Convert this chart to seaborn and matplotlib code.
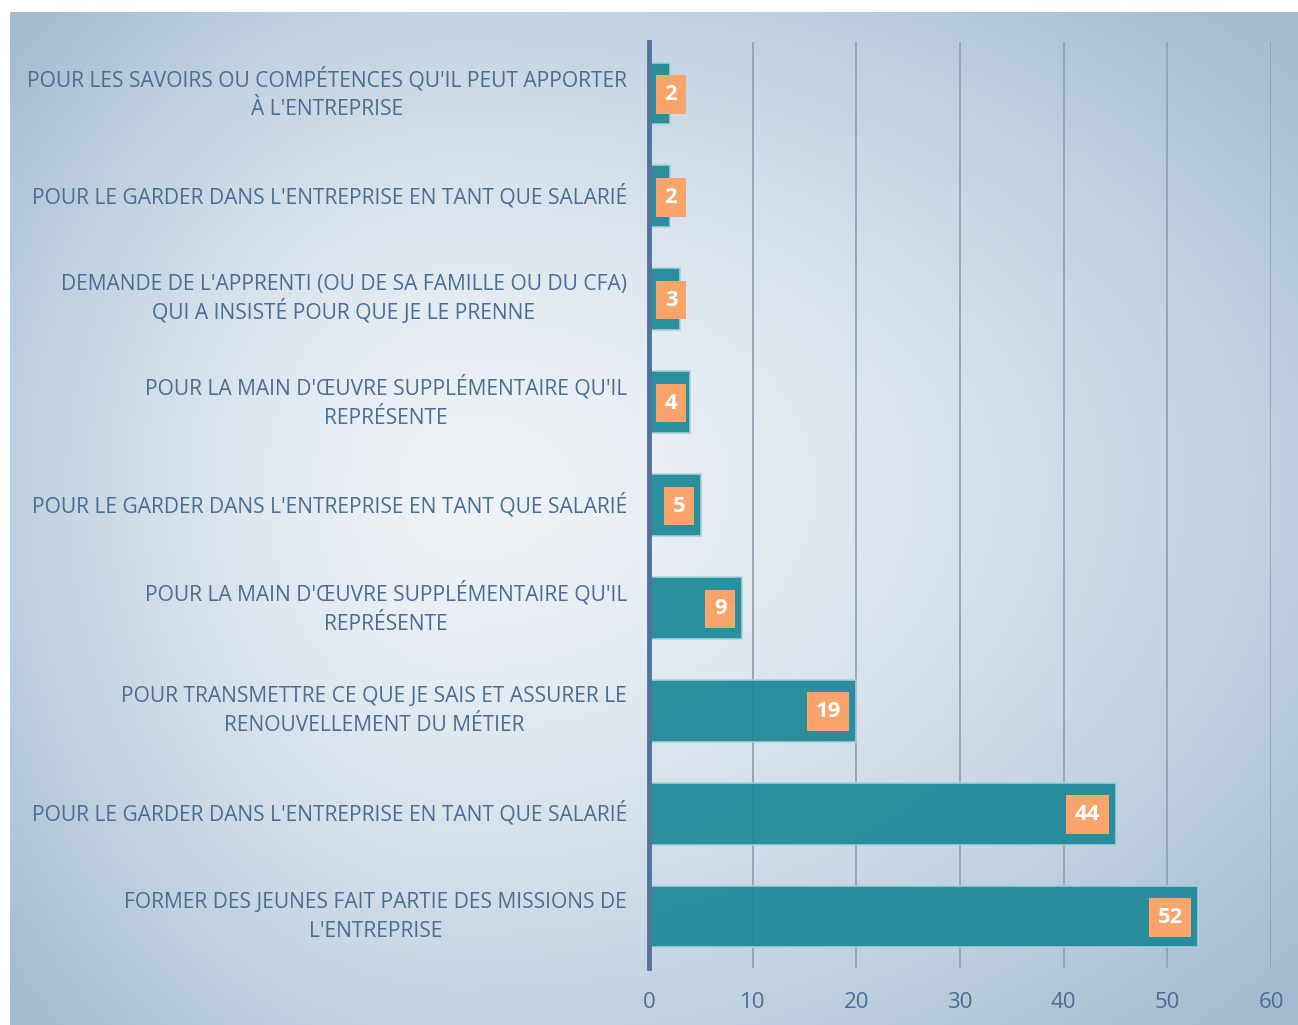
import numpy as np
import pandas as pd
import seaborn as sns
from matplotlib import pyplot as plt

# raisons, de haut en bas
raisons = [
    "POUR LES SAVOIRS OU COMPÉTENCES QU'IL PEUT APPORTER\nÀ L'ENTREPRISE",
    "POUR LE GARDER DANS L'ENTREPRISE EN TANT QUE SALARIÉ",
    "DEMANDE DE L'APPRENTI (OU DE SA FAMILLE OU DU CFA)\nQUI A INSISTÉ POUR QUE JE LE PRENNE",
    "POUR LA MAIN D'ŒUVRE SUPPLÉMENTAIRE QU'IL\nREPRÉSENTE",
    "POUR LE GARDER DANS L'ENTREPRISE EN TANT QUE SALARIÉ",
    "POUR LA MAIN D'ŒUVRE SUPPLÉMENTAIRE QU'IL\nREPRÉSENTE",
    "POUR TRANSMETTRE CE QUE JE SAIS ET ASSURER LE\nRENOUVELLEMENT DU MÉTIER",
    "POUR LE GARDER DANS L'ENTREPRISE EN TANT QUE SALARIÉ",
    "FORMER DES JEUNES FAIT PARTIE DES MISSIONS DE\nL'ENTREPRISE",
]
longueurs = [2, 2, 3, 4, 5, 9, 20, 45, 53]   # longueur des barres
etiquettes = [2, 2, 3, 4, 5, 9, 19, 44, 52]  # valeurs affichées
graduations = [0, 10, 20, 30, 40, 50, 60]

txt_col = "#4a6d93"
sns.set_style("white")
plt.rcParams["font.family"] = ["Open Sans", "DejaVu Sans"]

fig = plt.figure(figsize=(12.98, 10.25), dpi=100)

# fond en dégradé radial
bg = fig.add_axes([10 / 1298, 0, 1 - 10 / 1298, 1 - 12 / 1025])
h, w = 1013, 1288
yy, xx = np.mgrid[0:h, 0:w]
cx, cy = 450, 470
rx = np.where(xx < cx, 600.0, 1100.0)
ry = np.where(yy < cy, 670.0, 770.0)
d = np.sqrt(((xx - cx) / rx) ** 2 + ((yy - cy) / ry) ** 2)
d = np.clip(d, 0, 1)
c0 = np.array([0.935, 0.952, 0.968])
c1 = np.array([0.64, 0.735, 0.82])
img = c0 + (c1 - c0) * d[..., None] ** 1.5
bg.imshow(img, aspect="auto", interpolation="bilinear")
bg.axis("off")

df = pd.DataFrame({"rang": [str(i) for i in range(len(raisons))], "valeur": longueurs})

ax = fig.add_axes([649 / 1298, 57 / 1025, (1271 - 649) / 1298, (968 - 42) / 1025])
ax.set_facecolor("none")
sns.barplot(data=df, x="valeur", y="rang", orient="h", color="#1d8898", width=0.6,
            edgecolor="#a7d3dc", linewidth=1.2, alpha=0.93, saturation=1, ax=ax, zorder=3)

ax.set_xlim(0, 60)
px = (1271 - 649) / 60.0  # pixels par unité
fs = 15.8
pad_px = 0.4 * fs * 100 / 72
for i, (l, e) in enumerate(zip(longueurs, etiquettes)):
    wbox = 11.5 * len(str(e)) + 2 * pad_px
    xr = max(l - 7 / px, (8 + wbox) / px)
    ax.annotate(str(e), xy=(xr, i), xytext=(-pad_px, -1), textcoords="offset pixels",
                ha="right", va="center", color="white", fontsize=fs,
                fontweight="bold", zorder=5,
                bbox=dict(boxstyle="square,pad=0.4", fc="#f9a46b", ec="none"))

ax.set_xticks(graduations)
ax.set_yticks(range(len(raisons)))
ax.set_yticklabels(raisons, fontsize=15.1, color=txt_col, multialignment="center",
                   linespacing=1.5)
for k, lbl in enumerate(ax.get_yticklabels()):
    lbl.set_va("center")
    if "(" in raisons[k]:
        lbl.set_linespacing(1.2)
ax.tick_params(axis="x", length=0, pad=17, labelsize=16, labelcolor=txt_col)
ax.tick_params(axis="y", length=0, pad=16)
ax.xaxis.grid(True, color="#8fa3b6", linewidth=1.3, zorder=0)
ax.set_axisbelow(True)
for s in ["top", "right", "bottom"]:
    ax.spines[s].set_visible(False)
ax.spines["left"].set_color("#52739a")
ax.spines["left"].set_linewidth(3.5)
ax.spines["left"].set_zorder(6)
ax.set_xlabel("")
ax.set_ylabel("")

fig.savefig("out.png", dpi=100)
